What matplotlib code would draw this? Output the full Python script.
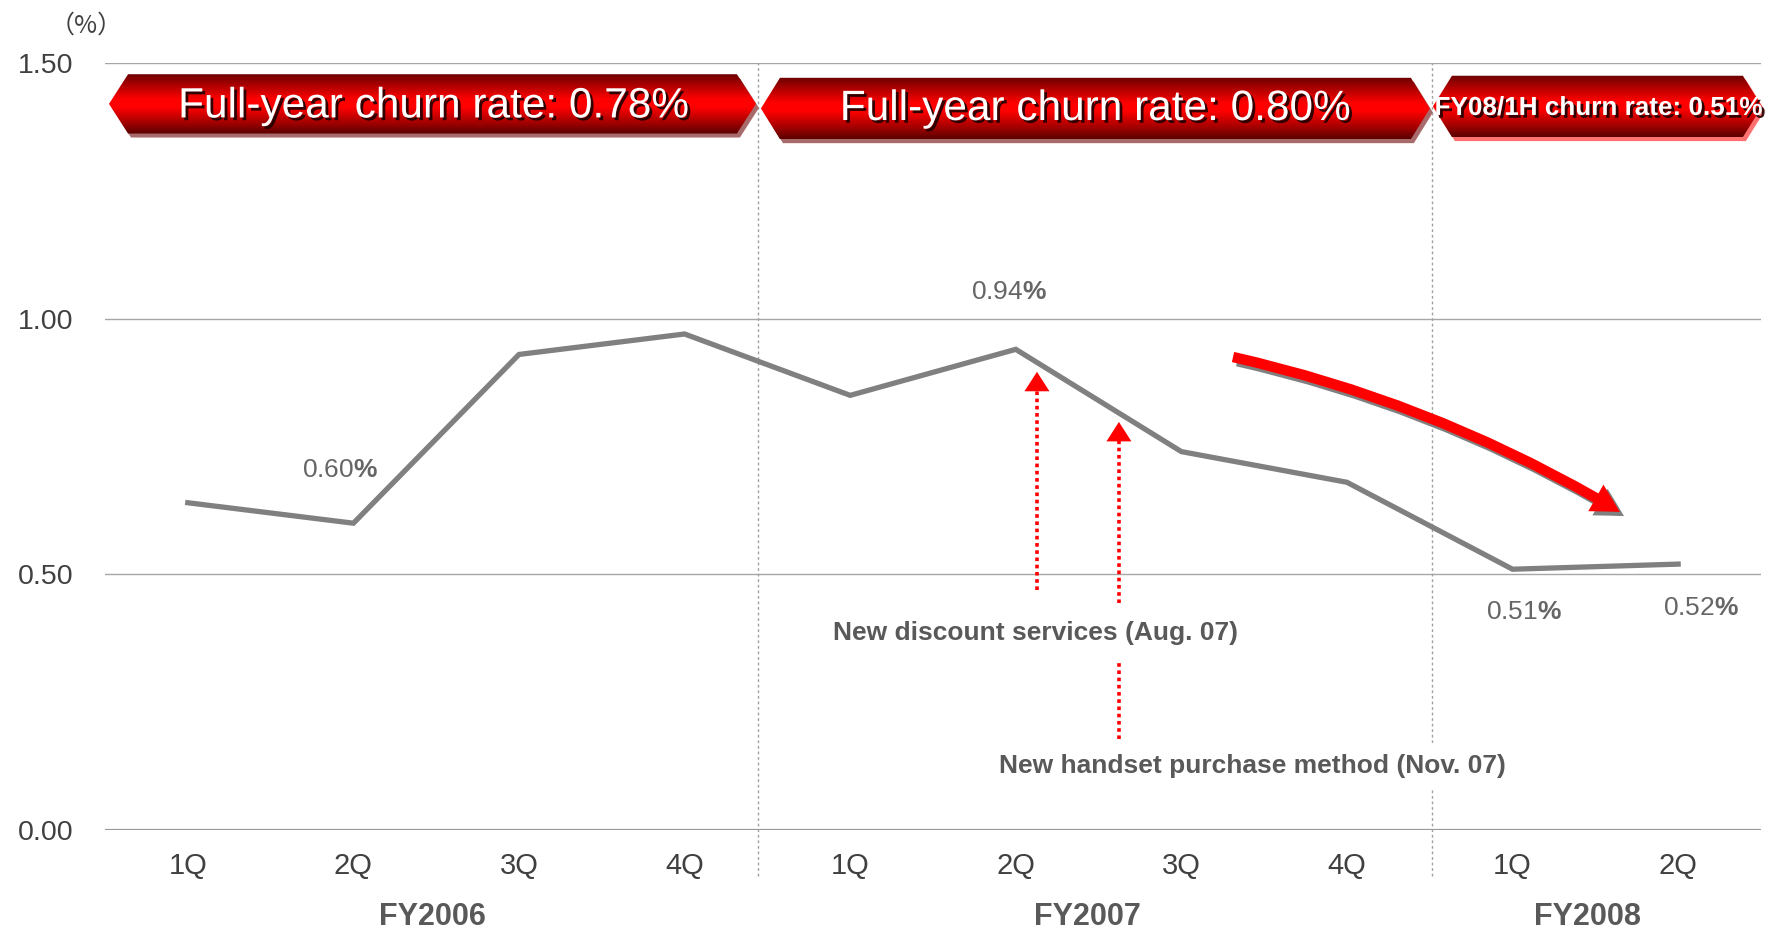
import numpy as np
import matplotlib
matplotlib.use("Agg")
import matplotlib.pyplot as plt
import matplotlib.patheffects as pe
import matplotlib.transforms as mtransforms
from matplotlib.patches import Polygon, FancyArrowPatch
from matplotlib.colors import LinearSegmentedColormap

plt.rcParams['font.family'] = ['Liberation Sans', 'DejaVu Sans']
plt.rcParams['mathtext.fontset'] = 'custom'
plt.rcParams['mathtext.rm'] = 'Liberation Sans'
plt.rcParams['mathtext.bf'] = 'Liberation Sans:bold'

# ---- data ----
quarters = ["1Q", "2Q", "3Q", "4Q", "1Q", "2Q", "3Q", "4Q", "1Q", "2Q"]
churn = [0.64, 0.60, 0.93, 0.97, 0.85, 0.94, 0.74, 0.68, 0.51, 0.52]
fiscal_years = ["FY2006", "FY2007", "FY2008"]
fy_centers = [1.48, 5.43, 8.45]
yticks = [0.0, 0.5, 1.0, 1.5]
labelled_points = [1, 5, 8, 9]
banner_texts = ["Full-year churn rate: 0.78%",
                "Full-year churn rate: 0.80%",
                "FY08/1H churn rate: 0.51%"]

fig = plt.figure(figsize=(17.68, 9.30), dpi=100)
ax = fig.add_axes([0.0594, 0.1075, 0.9366, 0.8248])
x = np.arange(len(churn))
ax.set_xlim(-0.5, 9.5)
ax.set_ylim(0, 1.5)
for s in ax.spines.values():
    s.set_visible(False)

# gridlines
for yv in yticks:
    ax.axhline(yv, color="#999999" if yv == 0 else "#a6a6a6",
               lw=1.6 if yv == 0 else 1.0, zorder=1)

ax.set_yticks(yticks)
ax.set_yticklabels([f"{v:.2f}" for v in yticks], fontsize=20.5, color="#404040")
ax.set_xticks(x)
ax.set_xticklabels(quarters, fontsize=21, color="#404040")
ax.tick_params(axis="y", length=0, pad=23)
ax.tick_params(axis="x", length=0, pad=16)

# fiscal-year separators
for sx in [3.443, 7.513]:
    ax.plot([sx, sx], [-0.09, 1.5], ls=(0, (2, 2)), color="#a0a0a0", lw=1.0,
            clip_on=False, zorder=1)

# fiscal year names
for name, cx in zip(fiscal_years, fy_centers):
    ax.text(cx, -0.170, name, ha="center", va="center", fontsize=22,
            fontweight="bold", color="#595959", clip_on=False)

# churn line
ax.plot(x, churn, color="#808080", lw=3.8, zorder=4, solid_joinstyle="miter")

# value labels
label_offsets = {1: (-0.08, 0.104), 5: (-0.04, 0.112), 8: (0.07, -0.084), 9: (0.14, -0.086)}
for i in labelled_points:
    dx, dy = label_offsets[i]
    ax.text(i + dx, churn[i] + dy, f"{churn[i]:.2f}" + r"$\mathbf{\%}$",
            ha="center", va="center", fontsize=19, color="#666666")

# "(%)" unit
fig.text(0.0486, 0.972, "（%）", ha="center", va="center", fontsize=18,
         color="#404040", family=["Noto Sans CJK JP", "DejaVu Sans"])

# ---- banners ----
cmap = LinearSegmentedColormap.from_list(
    "banner", [(0.0, "#5a0000"), (0.18, "#a00000"), (0.45, "#ff0000"),
               (0.58, "#ff0000"), (0.85, "#a00000"), (1.0, "#6a0000")])
grad = np.linspace(1, 0, 256).reshape(-1, 1)
shadow_tr = mtransforms.offset_copy(ax.transData, fig=fig, x=3, y=-4, units="dots")

banners = [
    # x0, x1, y0, y1, shadow colour, text x, text y, size, weight
    (-0.476, 3.431, 1.362, 1.478, "#a86a6a", 1.484, 1.415, 30.5, "normal"),
    (3.461, 7.501, 1.351, 1.471, "#a86a6a", 5.480, 1.410, 30.5, "normal"),
    (7.519, 9.506, 1.355, 1.475, "#ff7070", 8.520, 1.412, 18.8, "bold"),
]
depth = 0.115
for (x0, x1, y0, y1, shc, tx, ty, fs, fw), txt in zip(banners, banner_texts):
    ym = (y0 + y1) / 2
    pts = [(x0, ym), (x0 + depth, y1), (x1 - depth, y1), (x1, ym),
           (x1 - depth, y0), (x0 + depth, y0)]
    shadow = Polygon(pts, closed=True, facecolor=shc, edgecolor="none",
                     transform=shadow_tr, zorder=5, clip_on=False)
    ax.add_patch(shadow)
    poly = Polygon(pts, closed=True, facecolor="none", edgecolor="none",
                   zorder=6, clip_on=False)
    ax.add_patch(poly)
    im = ax.imshow(grad, extent=[x0, x1, y0, y1], aspect="auto", cmap=cmap,
                   origin="upper", zorder=6, interpolation="bilinear")
    im.set_clip_path(poly)
    im.set_clip_box(None)
    ax.text(tx, ty, txt, ha="center", va="center", fontsize=fs, fontweight=fw,
            color="white", zorder=7, clip_on=False,
            path_effects=[pe.withSimplePatchShadow(offset=(2, -2),
                                                   shadow_rgbFace="#200000",
                                                   alpha=0.9)])

ax.set_xlim(-0.5, 9.5)
ax.set_ylim(0, 1.5)

# ---- curved trend arrow ----
trend = FancyArrowPatch((6.312, 0.925), (8.648, 0.622),
                        connectionstyle="arc3,rad=-0.08",
                        arrowstyle="simple,head_length=2.0,head_width=2.2,tail_width=0.75",
                        mutation_scale=10, lw=0, color="#ff0000",
                        zorder=8, shrinkA=0, shrinkB=0,
                        path_effects=[pe.withSimplePatchShadow(offset=(3, -3),
                                                               shadow_rgbFace="#808080",
                                                               alpha=1.0)])
ax.add_patch(trend)

# ---- dotted event arrows ----
red_dot = dict(color="#ff0000", lw=2.6, ls=(0, (1, 1)), solid_capstyle="butt")
event_arrows = [(5.128, 0.469, 0.896), (5.623, 0.444, 0.798)]
head_len = 0.035
for ex, yb, yt in event_arrows:
    ax.plot([ex, ex], [yb, yt - head_len], zorder=9, **red_dot)
    head = FancyArrowPatch((ex, yt - head_len), (ex, yt),
                           arrowstyle="simple,head_length=1.4,head_width=1.8,tail_width=0.01",
                           mutation_scale=10, lw=0, color="#ff0000",
                           shrinkA=0, shrinkB=0, zorder=9)
    ax.add_patch(head)
ax.plot([5.623, 5.623], [0.178, 0.333], zorder=9, **red_dot)

ax.text(5.12, 0.385, "New discount services (Aug. 07)", ha="center", va="center",
        fontsize=19, fontweight="bold", color="#595959", zorder=10)
ax.text(6.43, 0.125, "New handset purchase method (Nov. 07)", ha="center",
        va="center", fontsize=19, fontweight="bold", color="#595959", zorder=10,
        bbox=dict(facecolor="white", edgecolor="none", pad=8))

fig.savefig("out.png", dpi=100)
